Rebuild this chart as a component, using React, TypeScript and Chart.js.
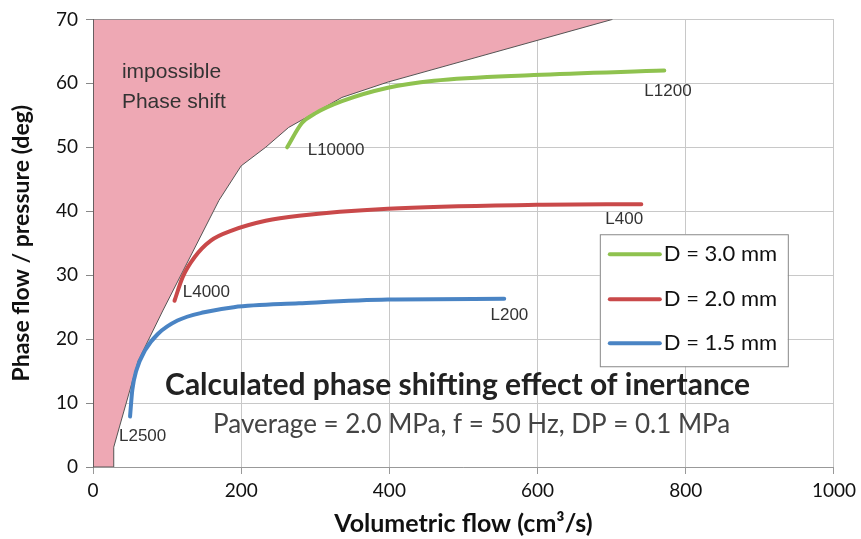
import React, { useEffect, useRef } from "react";
import { Chart, registerables } from "chart.js";
Chart.register(...registerables);

// Boundary of the "impossible phase shift" region (closed polygon)
const boundaryX = [0, 28, 28, 36, 61, 94, 170, 200, 233, 264, 336, 398, 701, 0, 0];
const boundaryY = [0, 0, 3.1, 6.4, 16.6, 24.4, 41.7, 47.1, 50, 53.1, 57.8, 60.2, 70, 70, 0];

// D = 3.0 mm
const greenX = [262, 282, 300, 336, 398, 460, 595, 771];
const greenY = [50, 53.8, 55.3, 57.2, 59.3, 60.4, 61.3, 62.0];
// D = 2.0 mm
const redX = [110, 121, 137, 159, 188, 233, 278, 398, 599, 740];
const redY = [26, 29.7, 32.8, 35.4, 37.0, 38.5, 39.3, 40.4, 41.0, 41.1];
// D = 1.5 mm
const blueX = [50, 53, 58.5, 70, 87.5, 114, 150, 190, 278, 398, 555];
const blueY = [7.9, 12.0, 15.1, 18.2, 20.8, 22.9, 24.2, 25.0, 25.6, 26.2, 26.3];

const seriesNames = ["D = 3.0 mm", "D = 2.0 mm", "D = 1.5 mm"];
const seriesColors = ["#8fc24f", "#c9494a", "#4a84c4"];

const xTickValues = [0, 200, 400, 600, 800, 1000];
const yTickValues = [0, 10, 20, 30, 40, 50, 60, 70];

const curveLabels = ["L10000", "L1200", "L4000", "L2500", "L400", "L200"];
const curveLabelX = [328, 776, 153, 67, 717, 562];
const curveLabelY = [49.5, 58.8, 27.3, 4.8, 38.8, 23.7];

const regionText = ["impossible", "Phase shift"];
const regionTextX = [39, 39];
const regionTextY = [61.7, 57.0];

const titleText = "Calculated phase shifting effect of inertance";
const subtitleText = "Paverage = 2.0 MPa, f = 50 Hz, DP = 0.1 MPa";

const pts = (xs: number[], ys: number[]) => xs.map((x, i) => ({ x, y: ys[i] }));

const overlayPlugin = {
  id: "overlay",
  afterDatasetsDraw(chart: any) {
    const { ctx } = chart;
    const xs = chart.scales.x;
    const ys = chart.scales.y;
    const px = (v: number) => xs.getPixelForValue(v);
    const py = (v: number) => ys.getPixelForValue(v);
    ctx.save();
    // region text
    ctx.fillStyle = "#333";
    ctx.font = "21px 'Liberation Sans', Arial, sans-serif";
    ctx.textAlign = "left";
    ctx.textBaseline = "middle";
    regionText.forEach((t, i) => ctx.fillText(t, px(regionTextX[i]), py(regionTextY[i])));
    // curve labels
    ctx.font = "17px 'Liberation Sans', Arial, sans-serif";
    ctx.textAlign = "center";
    curveLabels.forEach((t, i) => ctx.fillText(t, px(curveLabelX[i]), py(curveLabelY[i])));
    // title + subtitle
    ctx.fillStyle = "#222";
    ctx.font = "bold 30px Lato, 'Open Sans', sans-serif";
    ctx.fillText(titleText, px(492), py(12.8));
    ctx.fillStyle = "#444";
    ctx.font = "26px Lato, 'Open Sans', sans-serif";
    ctx.fillText(subtitleText, px(511), py(6.7));
    // legend
    const lx = px(684);
    const ly = py(36.4);
    ctx.fillStyle = "#fff";
    ctx.fillRect(lx, ly, 188, 132);
    ctx.strokeStyle = "#888";
    ctx.lineWidth = 1;
    ctx.strokeRect(lx + 0.5, ly + 0.5, 188, 132);
    ctx.font = "22px Lato, 'Open Sans', sans-serif";
    ctx.textAlign = "left";
    ctx.fillStyle = "#111";
    [20, 65, 109].forEach((dy, i) => {
      ctx.strokeStyle = seriesColors[i];
      ctx.lineWidth = 4;
      ctx.lineCap = "round";
      ctx.beginPath();
      ctx.moveTo(lx + 10, ly + dy);
      ctx.lineTo(lx + 60, ly + dy);
      ctx.stroke();
      ctx.fillText(seriesNames[i], lx + 64, ly + dy);
    });
    ctx.restore();
  },
};

export default function App() {
  const ref = useRef<HTMLCanvasElement>(null);
  useEffect(() => {
    if (!ref.current) return;
    const curve = (i: number, xs: number[], ys: number[]) => ({
      label: seriesNames[i],
      data: pts(xs, ys),
      borderColor: seriesColors[i],
      backgroundColor: seriesColors[i],
      borderWidth: 4,
      pointRadius: 0,
      showLine: true,
      fill: false,
      cubicInterpolationMode: "monotone" as const,
      borderCapStyle: "round" as const,
      order: 0,
    });
    const chart = new Chart(ref.current, {
      type: "scatter",
      data: {
        datasets: [
          {
            label: "impossible",
            data: pts(boundaryX, boundaryY),
            borderColor: "#555",
            borderWidth: 1,
            backgroundColor: "#eea8b4",
            pointRadius: 0,
            showLine: true,
            fill: "shape" as any,
            tension: 0,
            order: 10,
          },
          curve(0, greenX, greenY),
          curve(1, redX, redY),
          curve(2, blueX, blueY),
        ],
      },
      options: {
        responsive: false,
        animation: false,
        layout: { padding: { top: 19, right: 22, left: 0, bottom: 0 } },
        plugins: { legend: { display: false }, tooltip: { enabled: false } },
        scales: {
          x: {
            type: "linear",
            min: 0,
            max: 1000,
            afterBuildTicks: (s: any) => { s.ticks = xTickValues.map((v) => ({ value: v })); },
            afterFit: (s: any) => { s.height = 72; },
            ticks: {
              color: "#111",
              font: { family: "Lato, 'Open Sans', sans-serif", size: 19 },
              padding: 5,
              callback: (v: any) => String(v),
            },
            grid: { color: "#c8c8c8", tickColor: "#999", tickLength: 7 },
            border: { color: "#999" },
            title: {
              display: true,
              text: "Volumetric flow (cm³/s)",
              color: "#111",
              font: { family: "Lato, 'Open Sans', sans-serif", size: 25, weight: "bold" },
              padding: { top: 2, bottom: 0 },
            },
          },
          y: {
            type: "linear",
            min: 0,
            max: 70,
            afterBuildTicks: (s: any) => { s.ticks = yTickValues.map((v) => ({ value: v })); },
            afterFit: (s: any) => { s.width = 93; },
            ticks: {
              color: "#111",
              font: { family: "Lato, 'Open Sans', sans-serif", size: 19 },
              padding: 8,
              callback: (v: any) => String(v),
            },
            grid: { color: "#c8c8c8", tickColor: "#888", tickLength: 7 },
            border: { color: "#777" },
            title: {
              display: true,
              text: "Phase flow / pressure (deg)",
              color: "#111",
              font: { family: "Lato, 'Open Sans', sans-serif", size: 23, weight: "bold" },
              padding: { top: 8, bottom: 0 },
            },
          },
        },
      },
      plugins: [overlayPlugin],
    });
    return () => chart.destroy();
  }, []);
  return (
    <div style={{ position: "absolute", left: 0, top: 0, width: 861, height: 539, background: "#fff" }}>
      <canvas ref={ref} width={861} height={539} />
    </div>
  );
}
